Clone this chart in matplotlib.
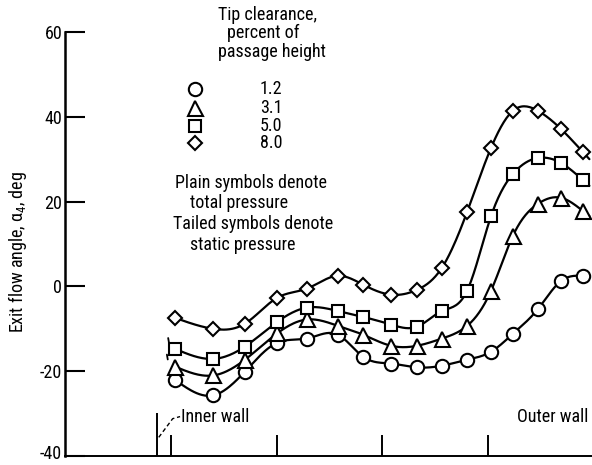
import numpy as np
import matplotlib
matplotlib.use("Agg")
import matplotlib.pyplot as plt
from matplotlib import font_manager
from matplotlib.transforms import offset_copy, ScaledTranslation

# ---------------- data ----------------
# radial position, percent of passage height from the inner wall
position = [4.1, 12.9, 20.2, 27.6, 34.5, 41.6, 47.4, 53.8,
            59.8, 65.5, 71.3, 76.8, 81.8, 87.6, 92.9, 97.9]
# exit flow angle, deg, for each tip clearance (percent of passage height)
angle_1_2 = [-22.0, -25.7, -20.1, -13.3, -12.3, -11.4, -16.6, -18.2,
             -19.1, -18.7, -17.3, -15.4, -11.2, -5.3, 1.3, 2.5]
angle_3_1 = [-18.9, -21.0, -17.3, -11.1, -7.8, -9.3, -11.4, -14.0,
             -14.0, -12.3, -9.3, -1.0, 11.9, 19.5, 20.9, 17.8]
angle_5_0 = [-14.7, -17.1, -14.2, -8.4, -5.0, -5.8, -7.2, -9.0,
             -9.5, -5.8, -1.0, 16.6, 26.5, 30.3, 29.1, 25.1]
angle_8_0 = [-7.4, -10.0, -8.8, -2.7, -0.5, 2.5, 0.4, -1.95,
             -0.8, 4.4, 17.6, 32.7, 41.4, 41.4, 37.1, 31.7]
clearance_labels = ["1.2", "3.1", "5.0", "8.0"]
y_ticks = [-40, -20, 0, 20, 40, 60]
x_ticks = [3.2, 27.6, 51.7, 76.1]
inner_wall = 0.0
# index of the tailed (static pressure) symbols per series
tailed = {"3.1": [0], "5.0": [0]}

# ---------------- font ----------------
names = {f.name for f in font_manager.fontManager.ttflist}
family = "DejaVu Sans"
for cand in ["Liberation Sans Narrow", "DejaVu Sans Condensed",
             "Roboto Condensed", "Open Sans Condensed", "Liberation Sans"]:
    if cand in names:
        family = cand
        break
plt.rcParams["font.family"] = [family, "DejaVu Sans"]
plt.rcParams["mathtext.fontset"] = "custom"
plt.rcParams["mathtext.rm"] = family
plt.rcParams["mathtext.it"] = family


def natural_spline(x, y, num=300, extend=1.5):
    x = np.asarray(x, float)
    y = np.asarray(y, float)
    n = len(x)
    h = np.diff(x)
    A = np.zeros((n, n))
    b = np.zeros(n)
    A[0, 0] = A[-1, -1] = 1.0
    for i in range(1, n - 1):
        A[i, i - 1] = h[i - 1]
        A[i, i] = 2 * (h[i - 1] + h[i])
        A[i, i + 1] = h[i]
        b[i] = 6 * ((y[i + 1] - y[i]) / h[i] - (y[i] - y[i - 1]) / h[i - 1])
    M = np.linalg.solve(A, b)
    xs = np.linspace(x[0], x[-1], num)
    idx = np.clip(np.searchsorted(x, xs) - 1, 0, n - 2)
    x0, x1 = x[idx], x[idx + 1]
    hh = x1 - x0
    t0 = x1 - xs
    t1 = xs - x0
    ys = (M[idx] * t0 ** 3 / (6 * hh) + M[idx + 1] * t1 ** 3 / (6 * hh)
          + (y[idx] / hh - M[idx] * hh / 6) * t0
          + (y[idx + 1] / hh - M[idx + 1] * hh / 6) * t1)
    hl = h[-1]
    slope = (y[-1] - y[-2]) / hl + hl * (2 * M[-1] + M[-2]) / 6
    xe = np.linspace(x[-1], x[-1] + extend, 5)[1:]
    ye = y[-1] + slope * (xe - x[-1])
    return np.concatenate([xs, xe]), np.concatenate([ys, ye])


W, H = 592, 465
fig = plt.figure(figsize=(W / 100, H / 100), dpi=100)
ax_left, ax_right, ax_top, ax_bottom = 65, 592, 32, 456
ax = fig.add_axes([ax_left / W, 1 - ax_bottom / H,
                   (ax_right - ax_left) / W, (ax_bottom - ax_top) / H])
ax.set_xlim(-21.15, 100)
ax.set_ylim(-40, 60)

series = [("1.2", angle_1_2, "o", 9.6),
          ("3.1", angle_3_1, "^", 10.8),
          ("5.0", angle_5_0, "s", 9.0),
          ("8.0", angle_8_0, "D", 7.4)]

lw = 1.6
for lab, vals, m, ms in series:
    xs, ys = natural_spline(position, vals)
    ax.plot(xs, ys, color="black", lw=lw, zorder=2, solid_capstyle="round")
for lab, vals, m, ms in series:
    ax.plot(position, vals, linestyle="none", marker=m, ms=ms,
            mfc="white", mec="black", mew=1.5, zorder=3)
    for i in tailed.get(lab, []):
        tr = offset_copy(ax.transData, fig=fig, x=-ms / 2 + 0.3,
                         y=ms / 2 - 0.3, units="points")
        ax.annotate("", xy=(position[i], vals[i]), xycoords=tr,
                    xytext=(-0.6, 3.5), textcoords="offset points",
                    arrowprops=dict(arrowstyle="-", lw=1.3,
                                    shrinkA=0, shrinkB=0), zorder=4)

# axes styling
for s in ["top", "right"]:
    ax.spines[s].set_visible(False)
ax.spines["left"].set_linewidth(1.8)
ax.spines["bottom"].set_linewidth(1.4)
ax.set_yticks(y_ticks)
ax.set_yticklabels([str(v) for v in y_ticks])
ax.set_xticks(x_ticks)
ax.set_xticklabels([])
ax.tick_params(axis="y", direction="in", length=14.5, width=1.5,
               labelsize=13, pad=2)
ax.tick_params(axis="x", direction="in", length=15, width=1.4)
# keep the bottom tick label inside the picture
bottom_label = ax.get_yticklabels()[0]
bottom_label.set_transform(bottom_label.get_transform()
                           + ScaledTranslation(0, 3 / 72, fig.dpi_scale_trans))

# inner wall marker and labels
ax.vlines(inner_wall, -40, -29.8, color="black", lw=1.4, zorder=2)
ax.plot([inner_wall + 0.4, inner_wall + 3.6, inner_wall + 5.3],
        [-35.6, -31.2, -30.7], color="black", lw=1.0,
        linestyle=(0, (3, 2)))
ax.text(inner_wall + 5.6, -30.7, "Inner wall", fontsize=13,
        ha="left", va="center")
ax.text(99.2, -30.7, "Outer wall", fontsize=13, ha="right", va="center")

# y label
fig.text(18 / W, 1 - 252 / H, r"Exit flow angle, $\alpha_4$, deg",
         rotation=90, ha="center", va="center", fontsize=13)


def fx(px):
    return px / W


def fy(py):
    return 1 - py / H


fs = 13
for txt, px, py in [("Tip clearance,", 218, 15), ("percent of", 227, 33),
                    ("passage height", 218, 52)]:
    fig.text(fx(px), fy(py), txt, ha="left", va="center", fontsize=fs)
rows = [89, 108, 126, 143]
for (lab, vals, m, ms), py in zip(series, rows):
    fig.lines.append(plt.Line2D([fx(195)], [fy(py)], transform=fig.transFigure,
                                marker=m, ms=ms, mfc="white", mec="black",
                                mew=1.5, linestyle="none"))
    fig.text(fx(260), fy(py), lab, ha="left", va="center", fontsize=fs)
for txt, px, py in [("Plain symbols denote", 175, 183),
                    ("total pressure", 190, 203),
                    ("Tailed symbols denote", 173, 224),
                    ("static pressure", 190, 245)]:
    fig.text(fx(px), fy(py), txt, ha="left", va="center", fontsize=fs)

fig.savefig("out.png", dpi=100)
